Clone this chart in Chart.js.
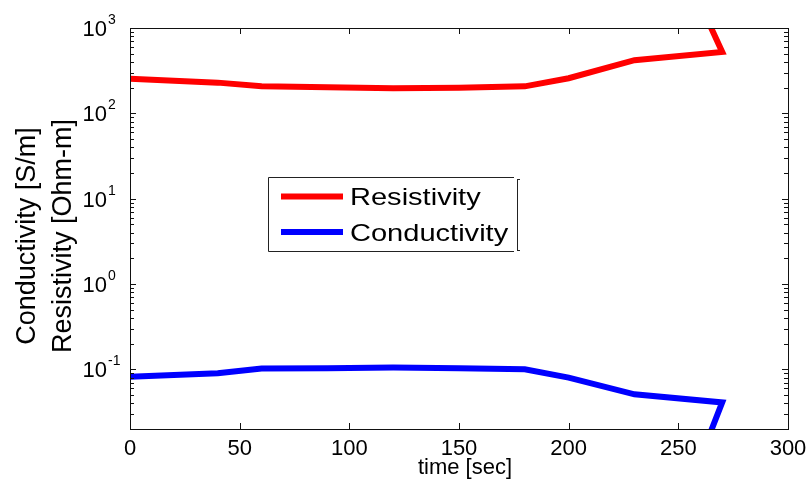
<!DOCTYPE html>
<html lang="en">
<head>
    <meta charset="UTF-8">
    <title>Resistivity / Conductivity</title>
    <script src="https://cdn.jsdelivr.net/npm/chart.js@4.4.1/dist/chart.umd.min.js"></script>
    <style>
        body { margin: 0; background: #fff; }
        canvas { display: block; }
    </style>
</head>
<body>
    <canvas id="myChart" width="811" height="481"></canvas>

    <script>
        // values
        const times = [0, 40, 60, 90, 120, 150, 180, 200, 230, 270, 260];
        const resistivity = [255, 229, 208, 202, 197, 200, 207, 258, 420, 525, 1900];
        const conductivity = [0.082, 0.09, 0.102, 0.103, 0.105, 0.103, 0.1, 0.08, 0.051, 0.041, 0.009];

        const xTicks = [0, 50, 100, 150, 200, 250, 300];
        const yTicks = [0.1, 1, 10, 100, 1000];
        const yExponents = ['-1', '0', '1', '2', '3'];

        const font = '"Liberation Sans", Arial, sans-serif';

        function points(values){
            return times.map((t, i) => ({x: t, y: values[i]}));
        }

        // MATLAB like frame, inward ticks, labels and legend
        const matlabAxes = {
            id: 'matlabAxes',
            afterDraw(chart){
                const ctx = chart.ctx;
                const a = chart.chartArea;
                const x = chart.scales.x;
                const y = chart.scales.y;
                ctx.save();
                ctx.strokeStyle = '#111';
                ctx.lineWidth = 1;
                ctx.strokeRect(Math.round(a.left) + 0.5, Math.round(a.top) + 0.5,
                    Math.round(a.right - a.left), Math.round(a.bottom - a.top));

                ctx.beginPath();
                xTicks.forEach(v => {
                    const px = Math.round(x.getPixelForValue(v)) + 0.5;
                    ctx.moveTo(px, a.bottom); ctx.lineTo(px, a.bottom - 6);
                    ctx.moveTo(px, a.top); ctx.lineTo(px, a.top + 6);
                });
                for (let e = -2; e <= 3; e++){
                    for (let m = 1; m <= 9; m++){
                        const v = m * Math.pow(10, e);
                        if (v < y.min || v > y.max) continue;
                        const py = Math.round(y.getPixelForValue(v)) + 0.5;
                        const len = m === 1 ? 6 : 4;
                        ctx.moveTo(a.left, py); ctx.lineTo(a.left + len, py);
                        ctx.moveTo(a.right, py); ctx.lineTo(a.right - len, py);
                    }
                }
                ctx.stroke();

                ctx.fillStyle = '#000';
                ctx.font = '22px ' + font;
                ctx.textAlign = 'center';
                ctx.textBaseline = 'alphabetic';
                xTicks.forEach(v => {
                    ctx.fillText(String(v), x.getPixelForValue(v), 455);
                });

                yTicks.forEach((v, i) => {
                    const py = y.getPixelForValue(v);
                    ctx.font = '22px ' + font;
                    ctx.textAlign = 'right';
                    ctx.fillText('10', 107, py + 8);
                    ctx.font = '14px ' + font;
                    ctx.textAlign = 'left';
                    ctx.fillText(yExponents[i], 108, py - 4);
                });

                ctx.font = '22px ' + font;
                ctx.textAlign = 'center';
                ctx.fillText('time [sec]', 465, 474);

                ctx.font = '27px ' + font;
                ctx.save();
                ctx.translate(35, 236);
                ctx.rotate(-Math.PI / 2);
                ctx.fillText('Conductivity [S/m]', 0, 0);
                ctx.restore();
                ctx.save();
                ctx.translate(71, 236);
                ctx.rotate(-Math.PI / 2);
                ctx.fillText('Resistivity [Ohm-m]', 0, 0);
                ctx.restore();

                // legend box
                ctx.fillStyle = '#fff';
                ctx.fillRect(268, 177, 249, 75);
                ctx.strokeStyle = '#222';
                ctx.beginPath();
                ctx.moveTo(514, 177.5); ctx.lineTo(268.5, 177.5);
                ctx.lineTo(268.5, 251.5); ctx.lineTo(514, 251.5);
                ctx.moveTo(517.5, 179); ctx.lineTo(517.5, 251);
                ctx.moveTo(517.5, 179.5); ctx.lineTo(520, 179.5);
                ctx.moveTo(517.5, 250.5); ctx.lineTo(520, 250.5);
                ctx.stroke();
                const rows = [196.5, 232];
                chart.data.datasets.forEach((ds, i) => {
                    ctx.strokeStyle = ds.borderColor;
                    ctx.lineWidth = 6;
                    ctx.beginPath();
                    ctx.moveTo(281, rows[i]); ctx.lineTo(343, rows[i]);
                    ctx.stroke();
                    ctx.fillStyle = '#000';
                    ctx.font = '24px ' + font;
                    ctx.textAlign = 'left';
                    ctx.save();
                    ctx.translate(350, rows[i] + 8.5);
                    ctx.scale(1.21, 1);
                    ctx.fillText(ds.label, 0, 0);
                    ctx.restore();
                });
                ctx.restore();
            }
        };

        const ctx = document.getElementById('myChart');
        const myChart = new Chart(ctx, {
            type: 'line',
            data: {
                datasets: [{
                    label: 'Resistivity',
                    data: points(resistivity),
                    borderColor: '#ff0000',
                    backgroundColor: '#ff0000',
                    borderWidth: 6,
                    pointRadius: 0,
                    tension: 0,
                    clip: 0
                },{
                    label: 'Conductivity',
                    data: points(conductivity),
                    borderColor: '#0000ff',
                    backgroundColor: '#0000ff',
                    borderWidth: 6,
                    pointRadius: 0,
                    tension: 0,
                    clip: 0
                }]
            },
            options: {
                responsive: false,
                animation: false,
                layout: {
                    padding: {left: 130, right: 23, top: 28, bottom: 52}
                },
                plugins: {
                    legend: {display: false},
                    tooltip: {enabled: false}
                },
                scales: {
                    x: {
                        type: 'linear',
                        min: 0,
                        max: 300,
                        display: false
                    },
                    y: {
                        type: 'logarithmic',
                        min: 0.02,
                        max: 1000,
                        display: false
                    }
                }
            },
            plugins: [matlabAxes]
        });
    </script>
</body>
</html>
